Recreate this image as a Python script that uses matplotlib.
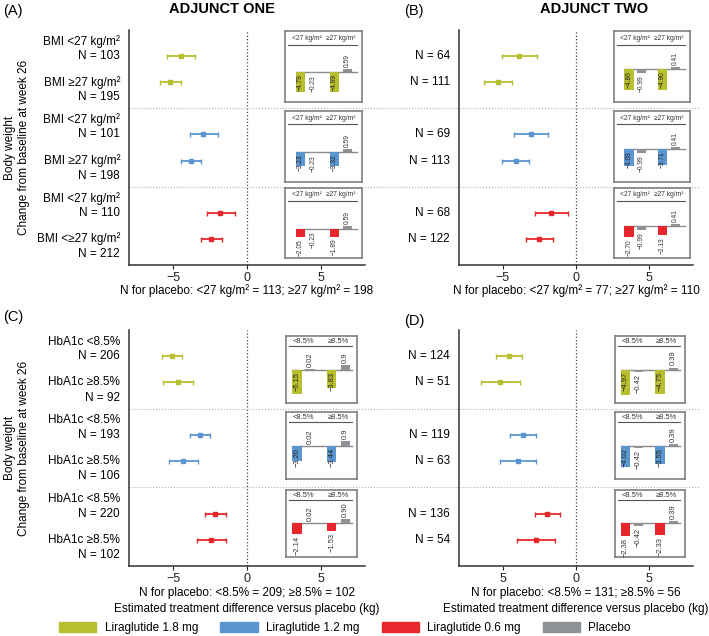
import numpy as np
import matplotlib
matplotlib.use('Agg')
import matplotlib.pyplot as plt
from matplotlib.patches import Patch
from matplotlib.transforms import blended_transform_factory

plt.rcParams['font.family'] = ['Liberation Sans', 'DejaVu Sans']

c_18 = '#b7bf2e'
c_12 = '#5b96d1'
c_06 = '#e8272c'
c_pbo = '#8e9196'
grp_colors = [c_18, c_12, c_06]

# estimated treatment difference (forest rows, top to bottom)
a_est = [-4.5, -5.2, -2.95, -3.8, -1.8, -2.45]
a_lo = [-5.45, -5.9, -3.87, -4.5, -2.7, -3.1]
a_hi = [-3.5, -4.45, -1.95, -3.1, -0.8, -1.7]
b_est = [-3.88, -5.32, -3.1, -4.11, -1.69, -2.53]
b_lo = [-5.07, -6.28, -4.22, -5.07, -2.81, -3.45]
b_hi = [-2.69, -4.4, -1.94, -3.2, -0.57, -1.6]
c_est = [-5.1, -4.7, -3.2, -4.32, -2.14, -2.43]
c_lo = [-5.77, -5.68, -3.87, -5.26, -2.85, -3.4]
c_hi = [-4.41, -3.65, -2.51, -3.29, -1.41, -1.41]
d_est = [-4.57, -5.17, -3.6, -3.95, -1.97, -2.72]
d_lo = [-5.46, -6.48, -4.5, -5.2, -2.79, -4.02]
d_hi = [-3.68, -3.86, -2.72, -2.72, -1.12, -1.42]

bmi_names = ['BMI <27 kg/m²', 'BMI ≥27 kg/m²', 'BMI <27 kg/m²', 'BMI ≥27 kg/m²',
             'BMI <27 kg/m²', 'BMI <≥27 kg/m²']
hba_names = ['HbA1c <8.5%', 'HbA1c ≥8.5%'] * 3
a_n = [103, 195, 101, 198, 110, 212]
b_n = [64, 111, 69, 113, 68, 122]
c_n = [206, 92, 193, 106, 220, 102]
d_n = [124, 51, 119, 63, 136, 54]

# inset bars: change from baseline per group (treatment, placebo) for the two subgroups
a_treat = [[-4.79, -4.69], [-3.23, -3.32], [-2.05, -1.89]]
a_pbo = [-0.23, 0.59]
b_treat = [[-4.86, -4.90], [-4.09, -3.71], [-2.70, -2.13]]
b_pbo = [-0.99, 0.41]
c_treat = [[-5.15, -3.83], [-3.20, -3.44], [-2.14, -1.53]]
c_pbo_v = [0.02, 0.9]
c_pbo_lab = [['0.02', '0.9'], ['0.02', '0.9'], ['0.02', '0.90']]
d_treat = [[-4.97, -4.75], [-4.02, -3.55], [-2.38, -2.33]]
d_pbo = [-0.42, 0.39]

bmi_heads = ['<27 kg/m²', '≥27 kg/m²']
hba_heads = ['<8.5%', '≥8.5%']

W, H = 709, 636
fig = plt.figure(figsize=(W / 100, H / 100), dpi=100)


def fmt(v):
    s = '{:.2f}'.format(abs(v))
    return ('−' + s) if v < 0 else s


def inset(ax, box, tv, pv, plab, color, heads, ylim, xlim, line_y, head_y, fs):
    iax = ax.inset_axes(box)
    pos = [0, 1, 2.65, 3.7]
    vals = [tv[0], pv[0], tv[1], pv[1]]
    labs = [fmt(tv[0]), plab[0], fmt(tv[1]), plab[1]]
    cols = [color, c_pbo, color, c_pbo]
    iax.bar(pos, vals, width=0.72, color=cols, zorder=2)
    iax.set_xlim(*xlim)
    iax.set_ylim(*ylim)
    x0 = (pos[0] - 0.36 - xlim[0]) / (xlim[1] - xlim[0])
    iax.axhline(0, xmin=x0, xmax=0.93, color='#8a8a8a', lw=1.0, zorder=1)
    iax.plot([0.04, 0.93], [line_y, line_y], transform=iax.transAxes, color='#555555', lw=0.8)
    tr = iax.get_xaxis_transform()
    iax.text((pos[0] + pos[1]) / 2, head_y, heads[0], transform=tr, ha='center', va='center',
             fontsize=fs, color='#333333')
    iax.text((pos[2] + pos[3]) / 2, head_y, heads[1], transform=tr, ha='center', va='center',
             fontsize=fs, color='#333333')
    for p, v, s in zip(pos, vals, labs):
        if v >= 0:
            iax.annotate(s, (p, v), xytext=(0, 1.5), textcoords='offset points', rotation=90,
                         ha='center', va='bottom', fontsize=fs, color='#333333')
        elif v < -3:
            iax.annotate(s, (p, 0), xytext=(0, -1.5), textcoords='offset points', rotation=90,
                         ha='center', va='top', fontsize=fs, color='#222222')
        else:
            iax.annotate(s, (p, v), xytext=(0, -1.5), textcoords='offset points', rotation=90,
                         ha='center', va='top', fontsize=fs, color='#333333')
    iax.set_xticks([])
    iax.set_yticks([])
    for sp in iax.spines.values():
        sp.set_color('#7f7f7f')
        sp.set_linewidth(1.2)
    return iax


def panel(rect, est, lo, hi, names, ns, treat, pbo, pbo_lab, heads, kind, sep_ext, ticklabs,
          ylim_in):
    ax = fig.add_axes(rect)
    rows = [1, 2, 4, 5, 7, 8]
    est = np.array(est)
    lo = np.array(lo)
    hi = np.array(hi)
    for i, y in enumerate(rows):
        c = grp_colors[i // 2]
        ax.errorbar(est[i], y, xerr=[[est[i] - lo[i]], [hi[i] - est[i]]], fmt='s', ms=2.6,
                    color=c, ecolor=c, elinewidth=1.3, capsize=1.8, capthick=1.0, zorder=3)
    ax.axvline(0, color='#444444', ls=':', lw=0.9, zorder=1)
    for y in [3, 6]:
        ax.axhline(y, xmin=0, xmax=sep_ext, color='#b0b0b0', ls=':', lw=0.8, clip_on=False)
    ax.set_xlim(-8, 8)
    ax.set_ylim(9, 0)
    ax.set_yticks([])
    ax.set_xticks([-5, 0, 5])
    ax.set_xticklabels(ticklabs)
    ax.tick_params(axis='x', length=3, width=0.8, labelsize=9, pad=2, colors='#222222')
    for s in ['top', 'right']:
        ax.spines[s].set_visible(False)
    for s in ['left', 'bottom']:
        ax.spines[s].set_linewidth(1.1)
        ax.spines[s].set_color('#333333')

    tr = blended_transform_factory(ax.transAxes, ax.transData)
    lab_x = -0.038
    for i, y in enumerate(rows):
        nt = 'N = {}'.format(ns[i])
        if names is None:
            ax.text(lab_x, y, nt, transform=tr, ha='right', va='center', fontsize=8.5)
        elif i % 2 == 0:
            ax.text(lab_x, y - 0.55, names[i], transform=tr, ha='right', va='center', fontsize=8.5)
            ax.text(lab_x, y, nt, transform=tr, ha='right', va='center', fontsize=8.5)
        else:
            ax.text(lab_x, y, names[i], transform=tr, ha='right', va='center', fontsize=8.5)
            ax.text(lab_x, y + 0.58, nt, transform=tr, ha='right', va='center', fontsize=8.5)

    if kind == 'bmi':
        tops, h, bx, bw = [0.995, 0.655, 0.328], 0.30, 0.662, 0.326
        xlim, line_y, head_y, fs = (-1.2, 4.85), 0.81, 0.9, 4.8
    else:
        tops, h, bx, bw = [0.975, 0.652, 0.323], 0.285, 0.667, 0.30
        xlim, line_y, head_y, fs = (-0.8, 4.6), 0.85, 0.92, 5.4
    for g in range(3):
        lab = pbo_lab[g] if pbo_lab is not None else [fmt(v) for v in pbo]
        inset(ax, [bx, tops[g] - h, bw, h], treat[g], pbo, lab, grp_colors[g], heads,
              ylim_in, xlim, line_y, head_y, fs)
    return ax


ax_a = panel([129 / W, 1 - 265 / H, 236 / W, 235 / H], a_est, a_lo, a_hi, bmi_names, a_n,
             a_treat, a_pbo, None, bmi_heads, 'bmi', 1.40, ['−5', '0', '5'], (-7.0, 9.6))
ax_b = panel([459 / W, 1 - 265 / H, 234 / W, 235 / H], b_est, b_lo, b_hi, None, b_n,
             b_treat, b_pbo, None, bmi_heads, 'bmi', 1.03, ['−5', '0', '5'], (-7.6, 8.8))
ax_c = panel([129 / W, 1 - 566 / H, 236 / W, 236 / H], c_est, c_lo, c_hi, hba_names, c_n,
             c_treat, c_pbo_v, c_pbo_lab, hba_heads, 'hba', 1.40, ['−5', '0', '5'], (-7.0, 7.0))
ax_d = panel([459 / W, 1 - 566 / H, 234 / W, 236 / H], d_est, d_lo, d_hi, None, d_n,
             d_treat, d_pbo, None, hba_heads, 'hba', 1.03, ['5', '0', '5'], (-6.5, 6.5))

ax_a.text(0.5, -0.108, 'N for placebo: <27 kg/m² = 113; ≥27 kg/m² = 198', transform=ax_a.transAxes,
          ha='center', va='center', fontsize=8.5)
ax_b.text(0.5, -0.108, 'N for placebo: <27 kg/m² = 77; ≥27 kg/m² = 110', transform=ax_b.transAxes,
          ha='center', va='center', fontsize=8.5)
ax_c.text(0.5, -0.113, 'N for placebo: <8.5% = 209; ≥8.5% = 102', transform=ax_c.transAxes,
          ha='center', va='center', fontsize=8.5)
ax_d.text(0.5, -0.113, 'N for placebo: <8.5% = 131; ≥8.5% = 56', transform=ax_d.transAxes,
          ha='center', va='center', fontsize=8.5)
for ax in [ax_c, ax_d]:
    ax.text(0.5, -0.183, 'Estimated treatment difference versus placebo (kg)', transform=ax.transAxes,
            ha='center', va='center', fontsize=8.5)

ylab = 'Body weight\nChange from baseline at week 26'
fig.text(17 / W, 1 - 147.5 / H, ylab, rotation=90, ha='center', va='center',
         multialignment='center', fontsize=8.5)
fig.text(17 / W, 1 - 448 / H, ylab, rotation=90, ha='center', va='center',
         multialignment='center', fontsize=8.5)

fig.text(222 / W, 1 - 9 / H, 'ADJUNCT ONE', ha='center', va='center', fontsize=10.5, fontweight='bold')
fig.text(594 / W, 1 - 9 / H, 'ADJUNCT TWO', ha='center', va='center', fontsize=10.5, fontweight='bold')
fig.text(3 / W, 1 - 11 / H, '(A)', ha='left', va='center', fontsize=10.5)
fig.text(404 / W, 1 - 11 / H, '(B)', ha='left', va='center', fontsize=10.5)
fig.text(3 / W, 1 - 317 / H, '(C)', ha='left', va='center', fontsize=10.5)
fig.text(404 / W, 1 - 321 / H, '(D)', ha='left', va='center', fontsize=10.5)

leg_labels = ['Liraglutide 1.8 mg', 'Liraglutide 1.2 mg', 'Liraglutide 0.6 mg', 'Placebo']
handles = [Patch(color=c) for c in [c_18, c_12, c_06, c_pbo]]
fig.legend(handles, leg_labels, loc='center', bbox_to_anchor=(345 / W, 1 - 628 / H), ncol=4,
           frameon=False, fontsize=8.5, handlelength=3.15, handleheight=0.9, handletextpad=0.7,
           columnspacing=1.9, borderpad=0.2)

fig.savefig('out.png', dpi=100)
